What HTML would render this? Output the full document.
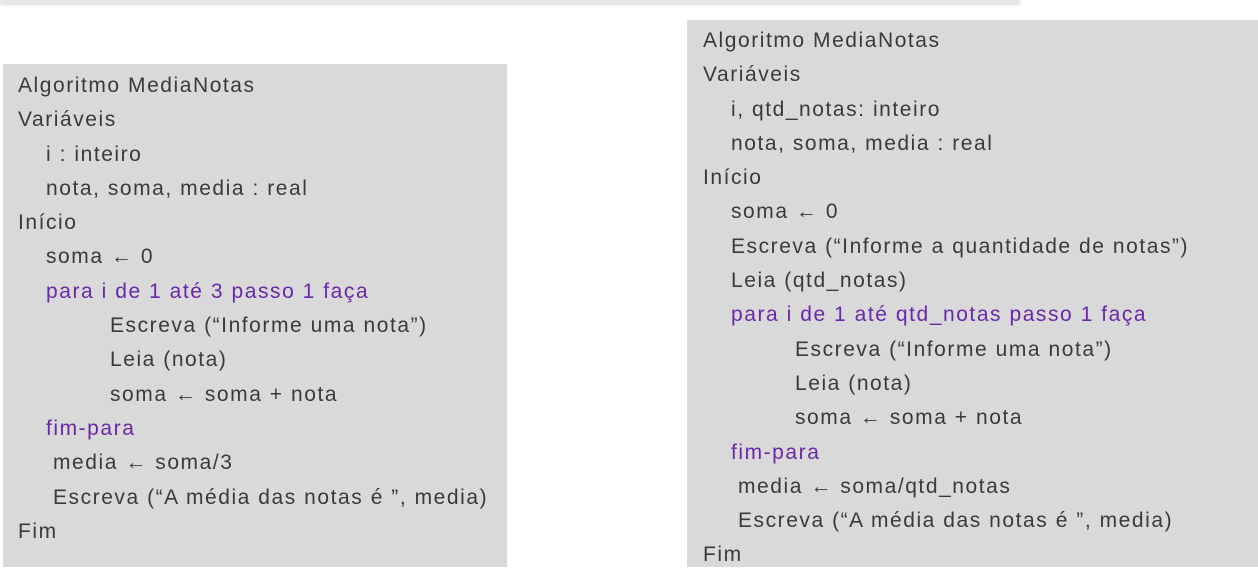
<!DOCTYPE html>
<html><head><meta charset="utf-8"><style>
body{margin:0;width:1258px;height:574px;background:#fff;position:relative;overflow:hidden;font-family:"Comic Sans MS","Liberation Sans",sans-serif;}
.shadow{position:absolute;left:0;top:0;width:1020px;height:3px;background:#e6e6e6;box-shadow:0 1px 3px #ccc;}
.box{position:absolute;background:#d9d9d9;}
.txt{position:absolute;font-size:21px;line-height:34.3px;color:#3a3a3a;white-space:nowrap;letter-spacing:1.55px;}
.txt div{height:34.3px;}
.a{padding-left:28px}.b{padding-left:92px}.c{padding-left:35px}
.p{color:#6a28a8;}
</style></head><body>
<div class="shadow"></div>
<div class="box" style="left:3px;top:64px;width:504px;height:503px;"></div>
<div class="box" style="left:687px;top:20px;width:571px;height:547px;"></div>
<div class="txt" style="left:18px;top:69px;">
<div>Algoritmo MediaNotas</div>
<div>Variáveis</div>
<div class="a">i : inteiro</div>
<div class="a">nota, soma, media : real</div>
<div>Início</div>
<div class="a">soma ← 0</div>
<div class="a p">para i de 1 até 3 passo 1 faça</div>
<div class="b">Escreva (“Informe uma nota”)</div>
<div class="b">Leia (nota)</div>
<div class="b">soma ← soma + nota</div>
<div class="a p">fim-para</div>
<div class="c">media ← soma/3</div>
<div class="c">Escreva (“A média das notas é ”, media)</div>
<div>Fim</div>
</div>
<div class="txt" style="left:703px;top:24px;">
<div>Algoritmo MediaNotas</div>
<div>Variáveis</div>
<div class="a">i, qtd_notas: inteiro</div>
<div class="a">nota, soma, media : real</div>
<div>Início</div>
<div class="a">soma ← 0</div>
<div class="a">Escreva (“Informe a quantidade de notas”)</div>
<div class="a">Leia (qtd_notas)</div>
<div class="a p">para i de 1 até qtd_notas passo 1 faça</div>
<div class="b">Escreva (“Informe uma nota”)</div>
<div class="b">Leia (nota)</div>
<div class="b">soma ← soma + nota</div>
<div class="a p">fim-para</div>
<div class="c">media ← soma/qtd_notas</div>
<div class="c">Escreva (“A média das notas é ”, media)</div>
<div>Fim</div>
</div>
</body></html>
